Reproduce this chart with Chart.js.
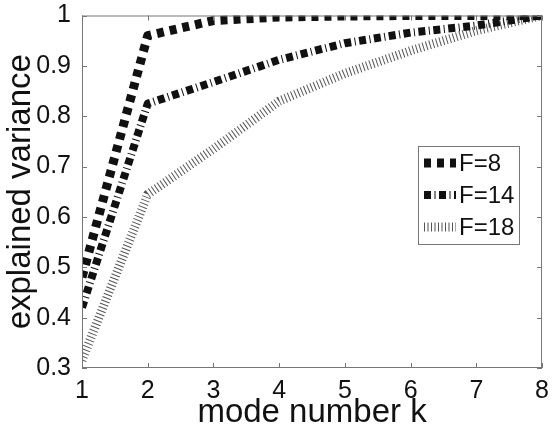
<!DOCTYPE html>
<html>
<head>
<meta charset="utf-8">
<script src="https://cdn.jsdelivr.net/npm/chart.js@4.4.1/dist/chart.umd.min.js"></script>
<style>
  html, body { margin: 0; padding: 0; background: #fff; }
  #wrap { width: 552px; height: 429px; }
</style>
</head>
<body>
<div id="wrap"><canvas id="varianceChart" width="552" height="429"></canvas></div>
<script>
const modes = [1, 2, 3, 4, 5, 6, 7, 8];
const f8 = [0.48, 0.96, 0.99, 0.997, 0.999, 1.0, 1.0, 1.0];
const f14 = [0.42, 0.825, 0.868, 0.912, 0.945, 0.966, 0.98, 1.0];
const f18 = [0.315, 0.645, 0.735, 0.83, 0.885, 0.93, 0.97, 1.0];
const xTicks = [1, 2, 3, 4, 5, 6, 7, 8];
const yTicks = [0.3, 0.4, 0.5, 0.6, 0.7, 0.8, 0.9, 1];
const names = ["F=8", "F=14", "F=18"];

const FONT = "'Liberation Sans', Arial, sans-serif";
const pts = ys => modes.map((k, i) => ({ x: k, y: ys[i] }));

// box round the plot with inward ticks on all four sides, plus the legend box
const framePlugin = {
  id: "frame",
  afterDatasetsDraw(chart) {
    const { ctx, chartArea: a, scales } = chart;
    ctx.save();
    ctx.setLineDash([]);
    ctx.strokeStyle = "#777";
    ctx.lineWidth = 1;
    ctx.strokeRect(a.left + 0.5, a.top + 0.5, a.right - a.left - 1, a.bottom - a.top - 1);
    ctx.beginPath();
    xTicks.forEach(v => {
      const px = Math.round(scales.x.getPixelForValue(v)) + 0.5;
      ctx.moveTo(px, a.bottom); ctx.lineTo(px, a.bottom - 5);
      ctx.moveTo(px, a.top); ctx.lineTo(px, a.top + 5);
    });
    yTicks.forEach(v => {
      const py = Math.round(scales.y.getPixelForValue(v)) + 0.5;
      ctx.moveTo(a.left, py); ctx.lineTo(a.left + 5, py);
      ctx.moveTo(a.right, py); ctx.lineTo(a.right - 5, py);
    });
    ctx.stroke();

    // legend
    const lx = 418, ly = 146, lw = 101, lh = 98;
    ctx.fillStyle = "#fff";
    ctx.fillRect(lx, ly, lw, lh);
    ctx.strokeStyle = "#777";
    ctx.strokeRect(lx + 0.5, ly + 0.5, lw, lh);
    ctx.font = "24px " + FONT;
    ctx.textBaseline = "middle";
    ctx.fillStyle = "#111";
    chart.data.datasets.forEach((ds, i) => {
      const y = ly + 17 + i * 32;
      ctx.beginPath();
      ctx.setLineDash(ds.borderDash);
      ctx.lineWidth = ds.borderWidth;
      ctx.strokeStyle = ds.borderColor;
      ctx.lineCap = "butt";
      ctx.moveTo(lx + 6, y); ctx.lineTo(lx + 38, y);
      ctx.stroke();
      ctx.setLineDash([]);
      ctx.fillText(ds.label, lx + 41, y + 1);
    });
    ctx.restore();
  }
};

new Chart(document.getElementById("varianceChart"), {
  type: "line",
  data: {
    datasets: [
      { label: names[0], data: pts(f8), borderColor: "#111", borderWidth: 9, borderDash: [7, 6] },
      { label: names[1], data: pts(f14), borderColor: "#111", borderWidth: 8, borderDash: [7, 3.5, 1, 3.5] },
      { label: names[2], data: pts(f18), borderColor: "#555", borderWidth: 9, borderDash: [1, 2.5] }
    ]
  },
  options: {
    responsive: false,
    animation: false,
    clip: 0,
    elements: {
      line: { tension: 0, borderJoinStyle: "round", fill: false },
      point: { radius: 0, hoverRadius: 0 }
    },
    layout: { padding: { top: 13, right: 6, left: 0, bottom: 0 } },
    plugins: { legend: { display: false }, tooltip: { enabled: false } },
    scales: {
      x: {
        type: "linear", min: 1, max: 8,
        afterBuildTicks: s => { s.ticks = xTicks.map(v => ({ value: v })); },
        afterFit: s => { s.height = 61; },
        grid: { display: false }, border: { display: false },
        ticks: { color: "#111", padding: 3, font: { family: FONT, size: 25, lineHeight: 1 } },
        title: { display: true, text: "mode number k", color: "#111", padding: 0,
                 font: { family: FONT, size: 33, lineHeight: 1 } }
      },
      y: {
        type: "linear", min: 0.3, max: 1,
        afterBuildTicks: s => { s.ticks = yTicks.map(v => ({ value: v })); },
        afterFit: s => { s.width = 82; },
        grid: { display: false }, border: { display: false },
        ticks: { color: "#111", padding: 3, font: { family: FONT, size: 25, lineHeight: 1 },
                 callback: v => String(+v.toFixed(1)) },
        title: { display: true, text: "explained variance", color: "#111", padding: { top: 4, bottom: 0 },
                 font: { family: FONT, size: 33, lineHeight: 1 } }
      }
    }
  },
  plugins: [framePlugin]
});
</script>
</body>
</html>
